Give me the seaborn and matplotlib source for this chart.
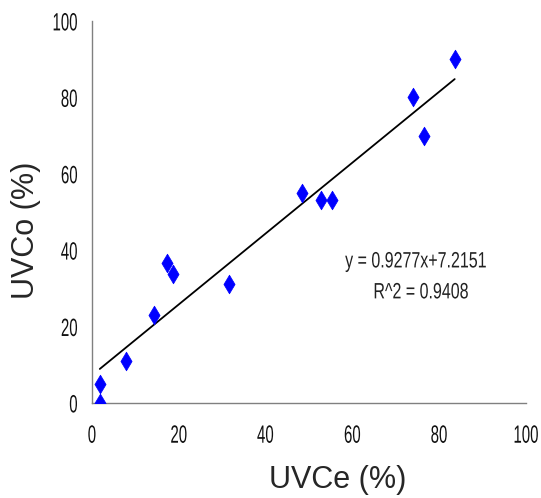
import numpy as np
import pandas as pd
import matplotlib
matplotlib.use("Agg")
import matplotlib.pyplot as plt
import seaborn as sns
from matplotlib.patheffects import AbstractPathEffect
from matplotlib.transforms import Affine2D

# values
uvce = [1.8, 1.8, 7.8, 14.4, 17.3, 18.6, 31.6, 48.5, 52.8, 55.3, 74.0, 76.5, 83.6]
uvco = [0.0, 5.0, 11.0, 23.0, 36.6, 33.7, 31.0, 55.0, 53.0, 53.0, 80.0, 70.0, 90.0]

# trend line as printed on the chart
slope = 0.9277
intercept = 7.2151
r2 = 0.9408

ticks = [0, 20, 40, 60, 80, 100]


class Squeeze(AbstractPathEffect):
    # narrow the glyphs horizontally, like a condensed font
    def __init__(self, sx, anchor="center"):
        super().__init__()
        self.sx = sx
        self.anchor = anchor

    def draw_path(self, renderer, gc, tpath, affine, rgbFace=None):
        bb = tpath.get_extents(affine)
        cx = bb.x1 if self.anchor == "right" else (bb.x0 + bb.x1) / 2
        tr = affine + Affine2D().translate(-cx, 0).scale(self.sx, 1).translate(cx, 0)
        renderer.draw_path(gc, tpath, tr, rgbFace)


data = pd.DataFrame({"UVCe": uvce, "UVCo": uvco})

sns.set_style("white")
plt.rcParams["font.family"] = ["Liberation Sans", "DejaVu Sans"]

fig = plt.figure(figsize=(5.41, 4.98), dpi=100)
ax = fig.add_axes([0.170, 0.191, 0.802, 0.767])

sns.scatterplot(data=data, x="UVCe", y="UVCo", marker="d", s=90,
                color="#0000ff", edgecolor="#0000ff", linewidth=0.5, ax=ax, zorder=3)

# regression line over the data range
xs = np.array([min(uvce), max(uvce)])
ax.plot(xs, slope * xs + intercept, color="black", linewidth=1.3, zorder=2)

t1 = ax.text(0.747, 0.369, "y = %.4fx+%.4f" % (slope, intercept),
             transform=ax.transAxes, ha="center", va="center", fontsize=16, color="#222222")
t2 = ax.text(0.758, 0.288, "R^2 = %.4f" % r2,
             transform=ax.transAxes, ha="center", va="center", fontsize=16, color="#222222")
for t in (t1, t2):
    t.set_path_effects([Squeeze(0.72)])

ax.set_xlim(0, 100)
ax.set_ylim(0, 100)
ax.set_xticks(ticks)
ax.set_yticks(ticks)
ax.set_xticklabels([str(t) for t in ticks], fontsize=18)
ax.set_yticklabels([str(t) for t in ticks], fontsize=18)
for lab in ax.get_xticklabels():
    lab.set_path_effects([Squeeze(0.6)])
for lab in ax.get_yticklabels():
    lab.set_path_effects([Squeeze(0.6, anchor="right")])
ax.tick_params(axis="both", direction="in", length=6, width=1, color="#808080",
               labelcolor="#111111")
ax.tick_params(axis="x", pad=15)
ax.tick_params(axis="y", pad=10)

for side in ["top", "right"]:
    ax.spines[side].set_visible(False)
for side in ["left", "bottom"]:
    ax.spines[side].set_color("#808080")
    ax.spines[side].set_linewidth(1.0)

ax.set_xlabel("UVCe (%)", fontsize=22)
ax.set_ylabel("UVCo (%)", fontsize=22)
ax.xaxis.set_label_coords(0.567, -0.163)
ax.yaxis.set_label_coords(-0.118, 0.453)

fig.savefig("out.png", dpi=100)
